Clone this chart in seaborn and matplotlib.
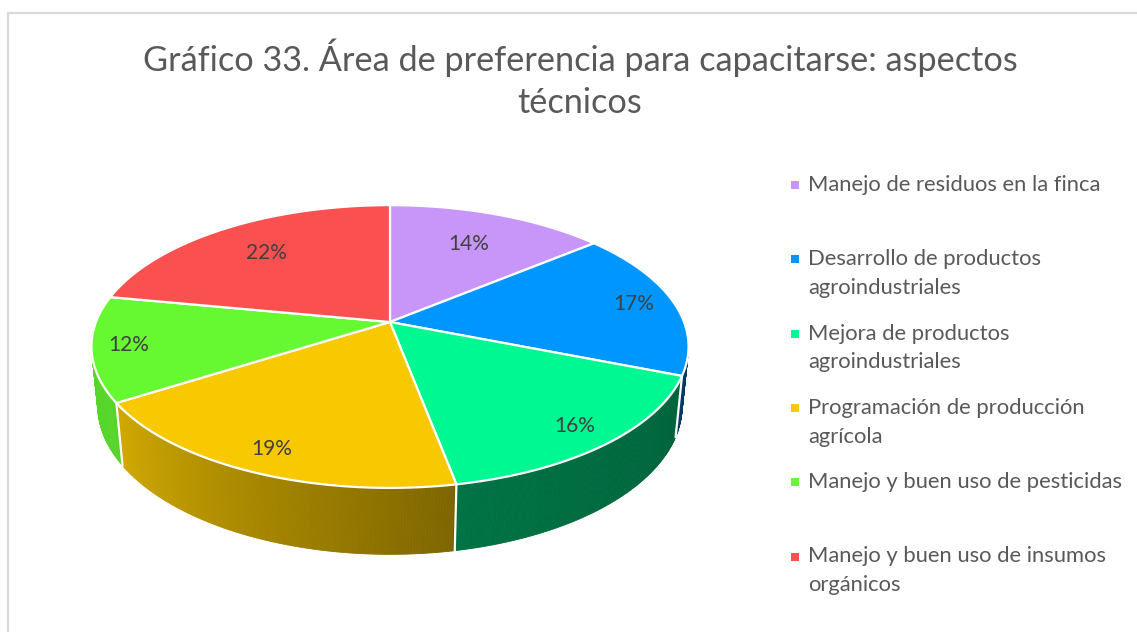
import numpy as np
import matplotlib
matplotlib.use("Agg")
import matplotlib.pyplot as plt
import seaborn as sns

# ---- data -------------------------------------------------------------
categories = [
    "Manejo de residuos en la finca",
    "Desarrollo de productos\nagroindustriales",
    "Mejora de productos\nagroindustriales",
    "Programación de producción\nagrícola",
    "Manejo y buen uso de pesticidas",
    "Manejo y buen uso de insumos\norgánicos",
]
shares = [14, 17, 16, 19, 12, 22]
title = "Gráfico 33. Área de preferencia para capacitarse: aspectos\ntécnicos"

palette = sns.color_palette(
    ["#c896f8", "#0096ff", "#00f893", "#f8c800", "#66f932", "#fa5050"]
)

# ---- style ------------------------------------------------------------
sns.set_theme(style="white")
plt.rcParams["font.family"] = ["Lato", "DejaVu Sans"]
TEXT = "#595959"

W, H = 1137, 632
fig = plt.figure(figsize=(W / 100, H / 100), dpi=100)
ax = fig.add_axes([0, 0, 1, 1])
ax.set_xlim(0, W)
ax.set_ylim(H, 0)
ax.axis("off")

# chart frame
ax.plot([8, 8, W + 5], [H + 5, 12.5, 12.5], color="#d9d9d9", lw=1.6,
        solid_joinstyle="miter", zorder=1)

# ---- perspective pie geometry ----------------------------------------
CX, CY = 390.0, 322.0      # apex of the slices on screen
SCALE = 294.0
ELEV = np.deg2rad(27.8)
DIST = 5.10
THICK = 0.23


def project(theta, r=1.0, z=0.0):
    x = r * np.cos(theta)
    yb = r * np.sin(theta)
    vert = yb * np.sin(ELEV) + z * np.cos(ELEV)
    depth = DIST + yb * np.cos(ELEV) - z * np.sin(ELEV)
    f = DIST / depth
    return CX + SCALE * x * f, CY - SCALE * vert * f, depth


fractions = np.array(shares, dtype=float) / np.sum(shares)
bounds = np.pi / 2 - 2 * np.pi * np.concatenate([[0], np.cumsum(fractions)])


def wall_shade(theta):
    deg = np.rad2deg(theta)
    deg = (deg + 270) % 360 - 270          # range (-270, 90]
    return np.interp(deg, [-270, -200, -150, -80, -79, -20, 10, 90],
                     [0.80, 0.83, 0.86, 0.51, 0.46, 0.40, 0.30, 0.30])


# side walls as thin shaded strips, painted far-to-near
strips = []
for i, col in enumerate(palette):
    t0, t1 = bounds[i], bounds[i + 1]
    n = max(int(abs(t0 - t1) / np.deg2rad(0.5)), 2)
    ts = np.linspace(t0, t1, n + 1)
    for a, b in zip(ts[:-1], ts[1:]):
        xa, ya, da = project(a)
        xb, yb_, db = project(b)
        xc, yc, _ = project(b, z=-THICK)
        xd, yd, _ = project(a, z=-THICK)
        shade = wall_shade((a + b) / 2)
        rgb = np.clip(np.array(col) * shade, 0, 1)
        strips.append(((da + db) / 2, [xa, xb, xc, xd], [ya, yb_, yc, yd], rgb))

strips.sort(key=lambda s: -s[0])
for _, xs, ys, rgb in strips:
    ax.fill(xs, ys, color=rgb, lw=0.6, ec=rgb, zorder=2)

# white seams on the visible walls
for t in bounds[:-1]:
    tt = (np.rad2deg(t) + 270) % 360 - 270
    if -200 < tt < -5:
        x0, y0, _ = project(t)
        x1, y1, _ = project(t, z=-THICK)
        ax.plot([x0, x1], [y0, y1], color="white", lw=1.6, zorder=3)

# top faces
for i, col in enumerate(palette):
    ts = np.linspace(bounds[i], bounds[i + 1], 200)
    px, py, _ = project(ts)
    xs = np.concatenate([[CX], px, [CX]])
    ys = np.concatenate([[CY], py, [CY]])
    ax.fill(xs, ys, color=col, ec="white", lw=1.6, joinstyle="round", zorder=4)

# percentage labels
label_r = [0.70, 0.86, 0.87, 0.87, 0.88, 0.72]
for i, v in enumerate(shares):
    mid = (bounds[i] + bounds[i + 1]) / 2
    lx, ly, _ = project(mid, r=label_r[i])
    ax.text(lx, ly, f"{v}%", ha="center", va="center", fontsize=15,
            color="#404040", zorder=5)

# ---- title -----------------------------------------------------------
ax.text(580, 79, title, ha="center", va="center", fontsize=24.7,
        color=TEXT, linespacing=1.4, zorder=5)

# ---- legend ----------------------------------------------------------
LX, LY0, STEP = 795, 185, 74.3
for i, (name, col) in enumerate(zip(categories, palette)):
    y = LY0 + STEP * i
    ax.scatter([LX], [y], marker="s", s=40, color=col, linewidths=0, zorder=5)
    ax.text(LX + 13, y - 10, name, ha="left", va="top", fontsize=15.8,
            color=TEXT, linespacing=1.55, zorder=5)

fig.savefig("out.png", dpi=100, facecolor="white")
